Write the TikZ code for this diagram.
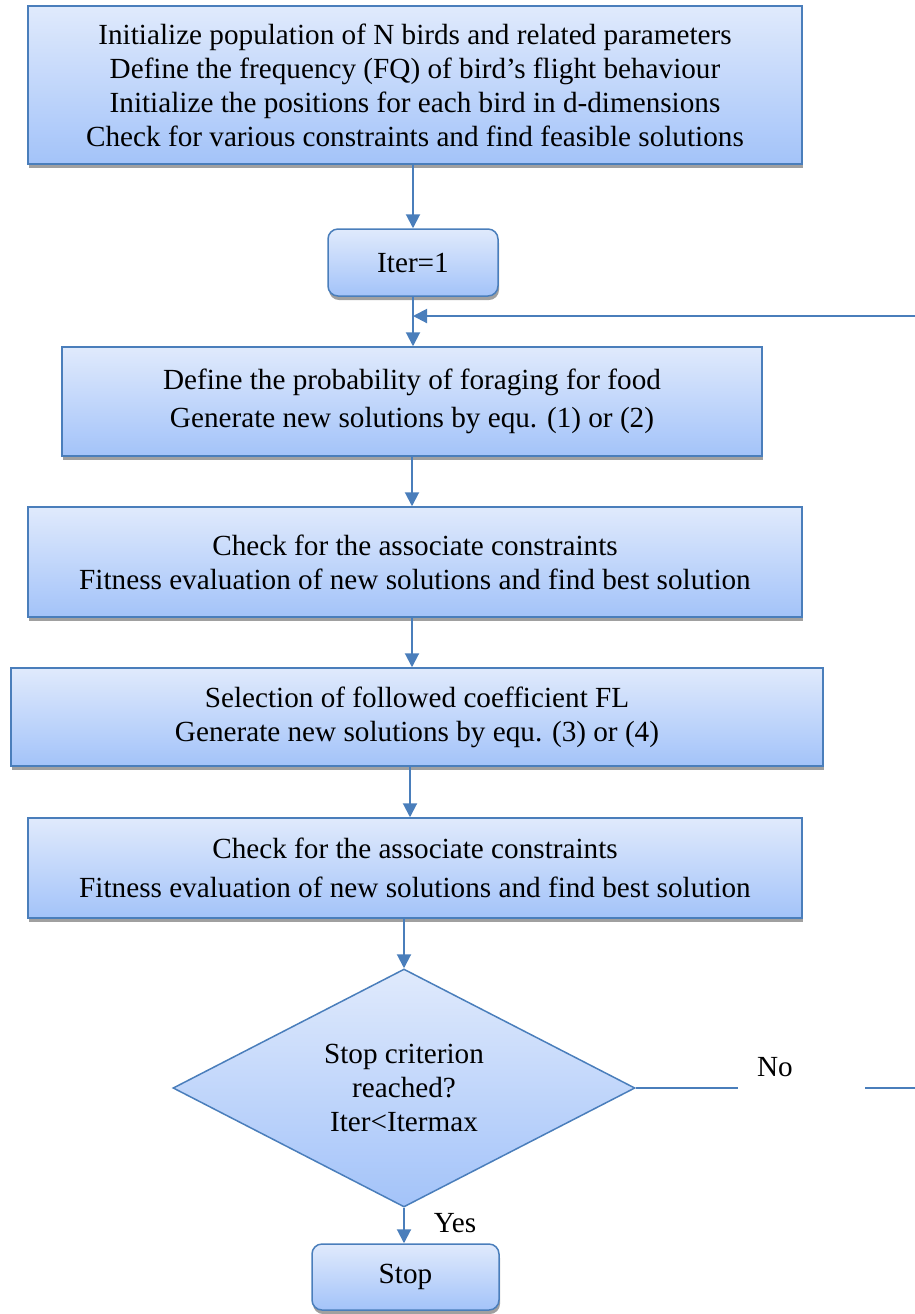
\documentclass[tikz,border=0pt]{standalone}
\usepackage{fontspec}
\setmainfont{Liberation Serif}
\usetikzlibrary{shapes.geometric,arrows.meta,shadows}
\definecolor{edgeblue}{RGB}{74,126,187}
\definecolor{topfill}{RGB}{224,234,252}
\definecolor{botfill}{RGB}{163,195,249}
\definecolor{shadowgray}{RGB}{160,160,160}
\begin{document}
\begin{tikzpicture}[x=0.5pt,y=-0.5pt,
  txt/.style={font=\fontsize{14.6}{17}\selectfont, align=center},
  box/.style={draw=edgeblue, line width=0.75pt, top color=topfill, bottom color=botfill,
    inner sep=0pt, drop shadow={shadow xshift=0.5pt, shadow yshift=-2pt, fill=shadowgray, opacity=1}, txt},
  rbox/.style={box, rounded corners=5pt},
  decision/.style={diamond, draw=edgeblue, line width=0.75pt, top color=topfill, bottom color=botfill,
    inner sep=0pt, shape aspect=1.94, txt},
  arr/.style={draw=edgeblue, line width=1pt, -{Triangle[width=7pt,length=7pt]}},
  conn/.style={draw=edgeblue, line width=1pt}]
\useasboundingbox (0,0) rectangle (915,1314);

\node[box, minimum width=387pt, minimum height=79pt] (b1) at (415,85)
  {Initialize population of N birds and related parameters\\
   Define the frequency (FQ) of bird’s flight behaviour\\
   Initialize the positions for each bird in d-dimensions\\
   Check for various constraints and find feasible solutions};
\node[rbox, minimum width=85pt, minimum height=33.5pt] (iter) at (413,262.5) {Iter=1};
\node[box, minimum width=350pt, minimum height=54.5pt, font=\fontsize{14.6}{19}\selectfont] (b2) at (412,401.5)
  {Define the probability of foraging for food\\
   Generate new solutions by equ. (1) or (2)};
\node[box, minimum width=387pt, minimum height=55pt] (b3) at (415,562)
  {Check for the associate constraints\\
   Fitness evaluation of new solutions and find best solution};
\node[box, minimum width=406pt, minimum height=49pt] (b4) at (417,717)
  {Selection of followed coefficient FL\\
   Generate new solutions by equ. (3) or (4)};
\node[box, minimum width=387pt, minimum height=50pt, font=\fontsize{14.6}{19.5}\selectfont] (b5) at (415,868)
  {Check for the associate constraints\\
   Fitness evaluation of new solutions and find best solution};
\node[decision, minimum width=231pt, minimum height=119pt] (dia) at (404,1088)
  {Stop criterion\\reached?\\Iter<Itermax};
\node[rbox, minimum width=93.5pt, minimum height=33pt] (stop) at (405.5,1277) {Stop};
\node[txt] (yes) at (455,1223) {Yes};
\node[txt] (no) at (775,1067) {No};

\coordinate (g1) at (738,1088);
\coordinate (g2) at (865,1088);
\coordinate (rc) at (918,1088);
\coordinate (loopin) at (413,316);

\draw[arr] (iter.north |- b1.south) -- (iter.north);
\draw[arr] (iter.south) -- (iter.south |- b2.north);
\draw[arr] (b2.south) -- (b2.south |- b3.north);
\draw[arr] (b2.south |- b3.south) -- (b2.south |- b4.north);
\draw[arr] ([xshift=3pt]dia.north |- b4.south) -- ([xshift=3pt]dia.north |- b5.north);
\draw[arr] (dia.north |- b5.south) -- (dia.north);
\draw[arr] (dia.south) -- (dia.south |- stop.north);
\draw[conn] (dia.east) -- (g1);
\draw[arr] (g2) -- (rc) |- (loopin);
\end{tikzpicture}
\end{document}
